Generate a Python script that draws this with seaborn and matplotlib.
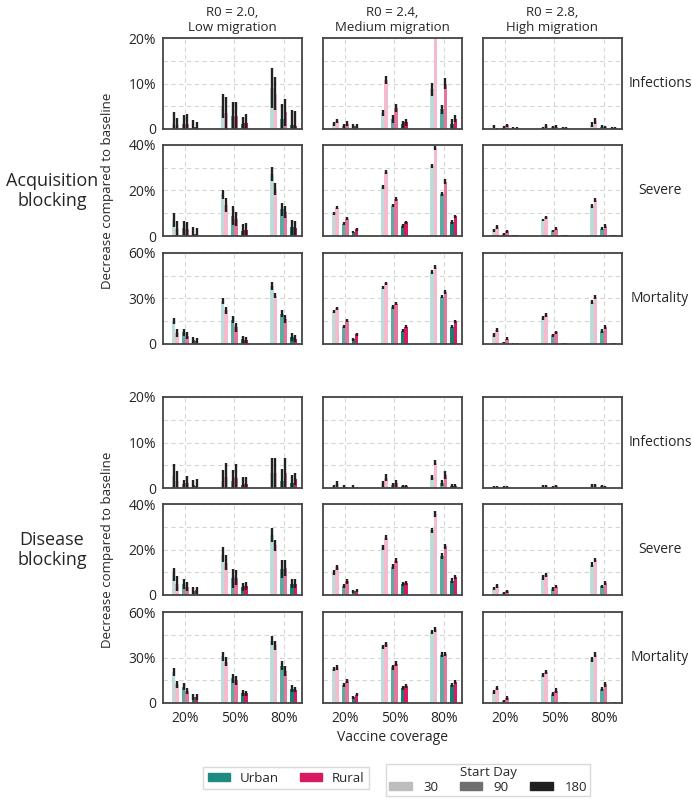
import numpy as np
import pandas as pd
import seaborn as sns
import matplotlib.pyplot as plt
from matplotlib.patches import Patch
from matplotlib.ticker import MultipleLocator, FuncFormatter

# Categories
coverage = ["20%", "50%", "80%"]
bars = ["U30", "R30", "U90", "R90", "U180", "R180"]
columns = ["R0 = 2.0,\nLow migration", "R0 = 2.4,\nMedium migration", "R0 = 2.8,\nHigh migration"]
outcomes = ["Infections", "Severe", "Mortality"]
blocks = ["Acquisition\nblocking", "Disease\nblocking"]

# Values in % (rows = coverage, cols = U30, R30, U90, R90, U180, R180)
# --- Acquisition blocking ---
acq_inf_low = [[1.2, 0.8, 1.0, 1.2, 0.5, 0.4], [5.0, 3.6, 2.8, 2.9, 1.0, 1.4], [9.0, 7.8, 2.2, 3.7, 0.8, 0.6]]
acq_inf_low_err = [[2.5, 1.6, 2.0, 2.2, 1.4, 1.1], [2.6, 3.5, 3.1, 3.0, 1.6, 2.0], [4.3, 3.6, 3.3, 3.0, 3.4, 3.4]]
acq_inf_med = [[1.0, 1.8, 0.6, 1.2, 0.7, 0.7], [3.5, 10.8, 2.2, 4.6, 1.0, 1.5], [8.7, 21.0, 4.3, 10.0, 1.2, 2.3]]
acq_inf_med_err = [[0.45, 0.5, 0.45, 0.55, 0.45, 0.45], [0.7, 0.9, 0.9, 0.95, 0.8, 0.75], [1.4, 1.0, 0.95, 1.2, 0.9, 0.85]]
acq_inf_high = [[0.6, 0.1, 0.3, 0.8, 0.25, 0.25], [0.3, 0.7, 0.4, 0.5, 0.25, 0.25], [0.95, 1.8, 0.5, 0.4, 0.25, 0.25]]
acq_inf_high_err = [[0.35, 0.2, 0.3, 0.4, 0.15, 0.15], [0.2, 0.45, 0.3, 0.3, 0.15, 0.15], [0.5, 0.65, 0.3, 0.25, 0.15, 0.15]]

acq_sev_low = [[7.1, 3.0, 3.4, 3.2, 1.0, 0.8], [18.3, 13.6, 9.0, 7.4, 2.3, 2.8], [27.2, 20.5, 11.7, 10.4, 3.8, 3.3]]
acq_sev_low_err = [[3.2, 3.4, 3.0, 3.0, 2.9, 2.7], [1.9, 2.9, 4.3, 3.0, 2.9, 3.0], [3.2, 2.6, 3.0, 2.6, 3.3, 3.1]]
acq_sev_med = [[9.8, 12.4, 5.4, 7.6, 1.75, 2.9], [21.5, 28.0, 13.4, 16.1, 4.4, 6.1], [30.7, 38.8, 18.5, 23.9, 6.1, 8.6]]
acq_sev_med_err = [[0.6, 0.6, 0.6, 0.6, 0.6, 0.6], [0.7, 0.8, 0.8, 0.9, 0.7, 0.7], [0.9, 0.9, 0.9, 1.0, 0.8, 0.8]]
acq_sev_high = [[2.5, 3.9, 0.7, 2.0, 0.3, 0.3], [7.0, 8.2, 2.3, 3.2, 0.3, 0.3], [13.1, 15.9, 3.2, 4.5, 0.3, 0.3]]
acq_sev_high_err = [[0.7, 0.9, 0.5, 0.7, 0.25, 0.25], [0.6, 0.8, 0.5, 0.7, 0.25, 0.25], [0.8, 0.9, 0.7, 0.8, 0.25, 0.25]]

acq_mort_low = [[15.3, 7.3, 7.7, 5.6, 2.4, 2.1], [28.5, 22.2, 16.1, 10.9, 3.2, 2.4], [38.0, 31.8, 20.1, 16.4, 4.5, 3.5]]
acq_mort_low_err = [[2.1, 2.9, 2.4, 2.5, 2.0, 1.7], [2.0, 2.5, 2.4, 2.7, 2.3, 2.0], [2.6, 1.8, 2.0, 2.7, 2.5, 2.4]]
acq_mort_med = [[21.4, 23.6, 11.5, 15.2, 3.1, 6.4], [37.1, 40.2, 24.3, 26.5, 8.8, 11.5], [47.5, 50.8, 31.3, 34.2, 11.5, 15.0]]
acq_mort_med_err = [[1.0, 1.0, 1.0, 1.0, 0.9, 0.9], [1.0, 1.0, 1.1, 1.1, 1.0, 1.0], [1.1, 1.1, 1.1, 1.2, 1.0, 1.0]]
acq_mort_high = [[6.0, 9.1, 1.0, 3.6, 0.3, 0.3], [17.1, 19.1, 5.8, 7.6, 0.3, 0.3], [27.6, 31.1, 8.7, 11.1, 0.3, 0.3]]
acq_mort_high_err = [[1.1, 1.3, 0.6, 1.1, 0.3, 0.3], [1.1, 1.3, 0.9, 1.3, 0.3, 0.3], [1.3, 1.4, 1.4, 1.4, 0.3, 0.3]]

# --- Disease blocking ---
dis_inf_low = [[2.6, 1.6, 0.8, 1.0, 0.6, 0.4], [1.5, 2.4, 1.5, 2.1, 0.6, 0.8], [3.3, 3.3, 1.6, 3.2, 1.2, 2.0]]
dis_inf_low_err = [[2.7, 2.1, 1.0, 1.6, 1.2, 1.6], [2.4, 3.2, 2.4, 3.1, 1.8, 1.6], [3.2, 3.2, 2.6, 3.5, 1.6, 1.3]]
dis_inf_med = [[0.4, 0.9, 0.3, 0.1, 0.3, 0.1], [0.9, 2.3, 0.6, 1.0, 0.4, 0.4], [2.4, 5.6, 1.0, 2.8, 0.5, 0.5]]
dis_inf_med_err = [[0.35, 0.6, 0.25, 0.1, 0.25, 0.1], [0.6, 0.85, 0.55, 0.8, 0.3, 0.3], [0.55, 0.6, 0.65, 0.9, 0.45, 0.4]]
dis_inf_high = [[0.2, 0.2, 0.2, 0.2, 0.05, 0.05], [0.4, 0.4, 0.2, 0.4, 0.05, 0.05], [0.5, 0.6, 0.4, 0.3, 0.05, 0.05]]
dis_inf_high_err = [[0.2, 0.2, 0.2, 0.2, 0.05, 0.05], [0.25, 0.25, 0.2, 0.25, 0.05, 0.05], [0.3, 0.3, 0.25, 0.2, 0.05, 0.05]]

dis_sev_low = [[9.1, 5.0, 4.7, 3.7, 1.9, 2.0], [17.7, 14.1, 7.4, 7.6, 3.6, 3.8], [26.5, 21.8, 11.4, 11.8, 4.9, 5.0]]
dis_sev_low_err = [[2.9, 3.3, 2.2, 2.0, 1.4, 1.5], [3.3, 3.3, 4.2, 3.4, 1.8, 1.8], [3.0, 2.5, 3.8, 3.5, 2.0, 2.0]]
dis_sev_med = [[9.9, 12.1, 3.9, 6.0, 1.6, 1.9], [20.9, 25.2, 12.5, 15.0, 4.7, 5.4], [28.5, 35.6, 17.2, 21.4, 6.3, 7.9]]
dis_sev_med_err = [[1.0, 1.0, 0.9, 1.1, 0.7, 0.7], [1.1, 1.0, 1.1, 1.1, 0.9, 0.9], [1.1, 1.2, 1.2, 1.2, 1.0, 0.9]]
dis_sev_high = [[2.8, 3.8, 1.0, 1.7, 0.1, 0.1], [7.6, 8.9, 2.6, 3.6, 0.1, 0.1], [13.4, 15.3, 3.9, 5.2, 0.1, 0.1]]
dis_sev_high_err = [[0.7, 0.9, 0.5, 0.7, 0.1, 0.1], [1.0, 0.9, 0.7, 0.7, 0.1, 0.1], [1.1, 1.0, 0.7, 0.9, 0.1, 0.1]]

dis_mort_low = [[20.5, 12.3, 10.8, 7.9, 4.1, 4.1], [30.7, 27.1, 16.2, 15.1, 6.6, 6.3], [41.2, 38.2, 24.5, 21.1, 9.5, 8.9]]
dis_mort_low_err = [[2.5, 2.4, 2.4, 2.0, 1.9, 1.9], [2.7, 3.0, 3.0, 3.0, 2.2, 1.9], [2.7, 3.0, 3.0, 3.1, 2.2, 1.6]]
dis_mort_med = [[22.7, 23.4, 12.0, 14.4, 3.7, 5.5], [36.9, 38.6, 23.6, 25.8, 9.8, 11.1], [46.7, 48.5, 31.9, 32.3, 12.0, 13.8]]
dis_mort_med_err = [[1.3, 1.4, 1.5, 1.3, 0.8, 1.1], [1.4, 1.4, 1.6, 1.6, 1.1, 1.3], [1.3, 1.4, 1.6, 1.6, 1.5, 1.6]]
dis_mort_high = [[7.1, 10.2, 1.3, 3.6, 0.2, 0.2], [18.4, 20.4, 6.0, 8.2, 0.2, 0.2], [28.7, 31.8, 9.3, 12.2, 0.1, 0.2]]
dis_mort_high_err = [[1.3, 1.3, 0.9, 1.3, 0.15, 0.15], [1.5, 1.3, 1.1, 1.4, 0.15, 0.15], [1.5, 1.5, 1.4, 1.5, 0.1, 0.15]]

y_tops = [20, 40, 60]

panels = [
    [(acq_inf_low, acq_inf_low_err), (acq_inf_med, acq_inf_med_err), (acq_inf_high, acq_inf_high_err)],
    [(acq_sev_low, acq_sev_low_err), (acq_sev_med, acq_sev_med_err), (acq_sev_high, acq_sev_high_err)],
    [(acq_mort_low, acq_mort_low_err), (acq_mort_med, acq_mort_med_err), (acq_mort_high, acq_mort_high_err)],
    [(dis_inf_low, dis_inf_low_err), (dis_inf_med, dis_inf_med_err), (dis_inf_high, dis_inf_high_err)],
    [(dis_sev_low, dis_sev_low_err), (dis_sev_med, dis_sev_med_err), (dis_sev_high, dis_sev_high_err)],
    [(dis_mort_low, dis_mort_low_err), (dis_mort_med, dis_mort_med_err), (dis_mort_high, dis_mort_high_err)],
]

# gaps between the start-day pairs
hue_order = ["U30", "R30", "gap1", "U90", "R90", "gap2", "U180", "R180"]
palette = {"U30": "#bcdcd9", "R30": "#f4bace", "gap1": "white",
           "U90": "#5fa9a2", "R90": "#e4769c", "gap2": "white",
           "U180": "#1c7d77", "R180": "#d81b60"}

sns.set_theme(style="white")
plt.rcParams['font.family'] = ['Open Sans', 'DejaVu Sans']


def panel_frame(mid, err):
    # each bar gets (low, mid, high): median = bar, min/max = error bar
    rows = []
    for i, cov in enumerate(coverage):
        for j, b in enumerate(bars):
            m, e = mid[i][j], err[i][j]
            for v in (m - e, m, m + e):
                rows.append({"coverage": cov, "bar": b, "value": v})
    return pd.DataFrame(rows)


def pct(v, pos):
    return "0" if v == 0 else f"{v:g}%"


fig = plt.figure(figsize=(6.92, 8), dpi=100)

col_left = [163, 323, 483]
row_top = [38, 145, 253, 397, 504, 612]
W, H = 139, 91

for r in range(6):
    for c in range(3):
        ax = fig.add_axes([col_left[c] / 692, 1 - (row_top[r] + H) / 800, W / 692, H / 800])
        mid, err = panels[r][c]
        df = panel_frame(mid, err)
        sns.barplot(data=df, x="coverage", y="value", hue="bar", order=coverage,
                    hue_order=hue_order, palette=palette, estimator="median",
                    errorbar=("pi", 100), width=0.54, gap=0, saturation=1,
                    linewidth=0, edgecolor="none",
                    err_kws={"color": "#222222", "linewidth": 1.7, "solid_capstyle": "butt"},
                    legend=False, ax=ax)
        top = y_tops[r % 3]
        ax.set_ylim(0, top)
        ax.set_xlim(-0.45, 2.37)
        ax.yaxis.set_major_locator(MultipleLocator(top / 2))
        ax.yaxis.set_minor_locator(MultipleLocator(top / 4))
        ax.yaxis.set_major_formatter(FuncFormatter(pct))
        ax.set_axisbelow(True)
        ax.grid(True, axis="y", which="both", color="#d6d6d6", linestyle=(0, (4, 3)), linewidth=0.8)
        ax.grid(True, axis="x", which="major", color="#d6d6d6", linestyle=(0, (4, 3)), linewidth=0.8)
        for s in ax.spines.values():
            s.set_color("#444444")
            s.set_linewidth(1.3)
        ax.set_xlabel("")
        ax.set_ylabel("")
        ax.tick_params(axis="x", length=2.5, width=0.8, color="#444444", labelsize=10, pad=3)
        if c == 0:
            ax.tick_params(axis="y", which="both", length=3, width=0.8, color="#444444", labelsize=10, pad=2)
        else:
            ax.tick_params(axis="y", which="both", left=False, labelleft=False)
        if r != 5:
            ax.tick_params(axis="x", labelbottom=False)
        if r == 0:
            ax.set_title(columns[c], fontsize=9.5, pad=5)
        if r == 5 and c == 1:
            ax.set_xlabel("Vaccine coverage", fontsize=10, labelpad=3)
        if c == 2:
            fig.text(660 / 692, 1 - (row_top[r] + H / 2) / 800, outcomes[r % 3],
                     ha="center", va="center", fontsize=10)

# block labels and y labels
for k, yc in enumerate([191, 550]):
    fig.text(52 / 692, 1 - yc / 800, blocks[k], ha="center", va="center", fontsize=13, linespacing=1.2)
    fig.text(108 / 692, 1 - yc / 800, "Decrease compared to baseline", rotation=90,
             ha="center", va="center", fontsize=9.5)

# legends
loc_handles = [Patch(color="#1e8a82"), Patch(color="#d81b60")]
leg1 = fig.legend(loc_handles, ["Urban", "Rural"], ncol=2, loc="center",
                  bbox_to_anchor=(286 / 692, 1 - 778 / 800), fontsize=9.5,
                  handlelength=1.7, handleheight=0.5, handletextpad=0.7, columnspacing=1.6,
                  frameon=True, edgecolor="#d0d0d0", fancybox=False, borderpad=0.35)
day_handles = [Patch(color="#bdbdbd"), Patch(color="#6f6f6f"), Patch(color="#1f1f1f")]
leg2 = fig.legend(day_handles, ["30", "90", "180"], ncol=3, loc="center",
                  title="Start Day", title_fontsize=9.5,
                  bbox_to_anchor=(488 / 692, 1 - 780 / 800), fontsize=9.5,
                  handlelength=1.7, handleheight=0.5, handletextpad=0.9, columnspacing=1.6,
                  frameon=True, edgecolor="#d0d0d0", fancybox=False, borderpad=0.2,
                  labelspacing=0.1)
leg2._legend_box.sep = 1

plt.savefig("out.png", dpi=100)
